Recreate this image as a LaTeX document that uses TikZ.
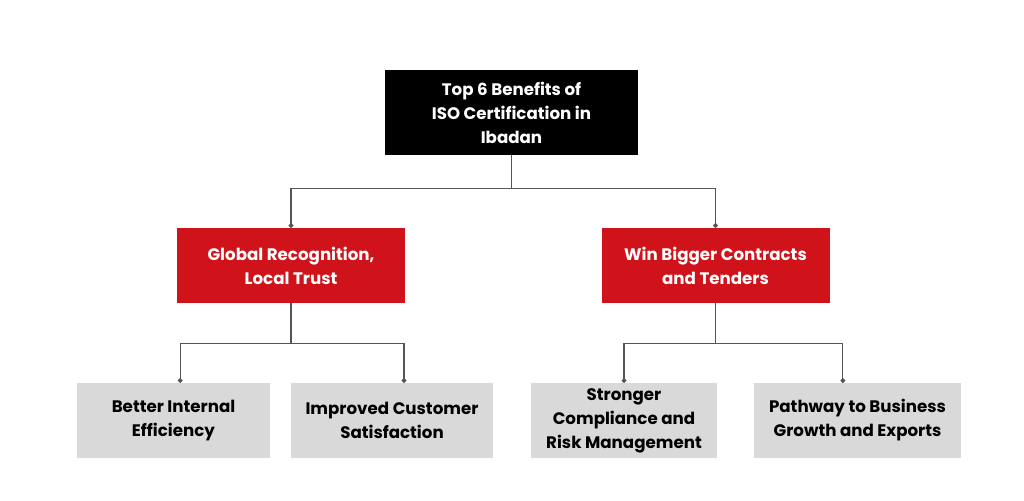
\documentclass[tikz,border=0pt]{standalone}
\usepackage{fontspec}
\setmainfont{Poppins}
\usetikzlibrary{arrows.meta}
\definecolor{isored}{HTML}{D0121B}
\definecolor{isogray}{HTML}{D9D9D9}
\definecolor{linegray}{HTML}{555555}

\begin{document}
\begin{tikzpicture}[x=0.75pt,y=-0.75pt,
    box/.style={minimum height=56pt, align=center, inner sep=0pt,
      font=\fontsize{12.5}{18}\selectfont\bfseries},
    topbox/.style={box, fill=black, text=white, minimum width=190pt, minimum height=64pt},
    redbox/.style={box, fill=isored, text=white, minimum width=171pt},
    greybox/.style={box, fill=isogray, text=black},
    link/.style={draw=linegray, line width=0.9pt, -{Circle[length=3.5pt]}}]
    \useasboundingbox (0,0) rectangle (1024,500);

    \node[topbox] (top) at (511.5,112.5) {Top 6 Benefits of\\ISO Certification in\\Ibadan};

    \node[redbox] (global) at (291,265.5) {Global Recognition,\\Local Trust};
    \node[redbox] (contracts) at (715.5,265.5) {Win Bigger Contracts\\and Tenders};

    \node[greybox, minimum width=145pt] (efficiency) at (173.5,420.5) {Better Internal\\Efficiency};
    \node[greybox, minimum width=151pt] (customer) at (392,420.5) {Improved Customer\\Satisfaction};
    \node[greybox, minimum width=140pt] (compliance) at (624,420.5) {Stronger\\Compliance and\\Risk Management};
    \node[greybox, minimum width=155pt] (growth) at (857.5,420.5) {Pathway to Business\\Growth and Exports};

    % top level
    \draw[link] (top.south) -- ++(0,33) -| (global.north);
    \draw[link] (top.south) -- ++(0,33) -| (contracts.north);
    % second level
    \draw[link] (global.south) -- ++(0,40) -| ([xshift=5]efficiency.north);
    \draw[link] (global.south) -- ++(0,40) -| ([xshift=9]customer.north);
    \draw[link] (contracts.south) -- ++(0,40) -| (compliance.north);
    \draw[link] (contracts.south) -- ++(0,40) -| ([xshift=-11]growth.north);
\end{tikzpicture}
\end{document}
